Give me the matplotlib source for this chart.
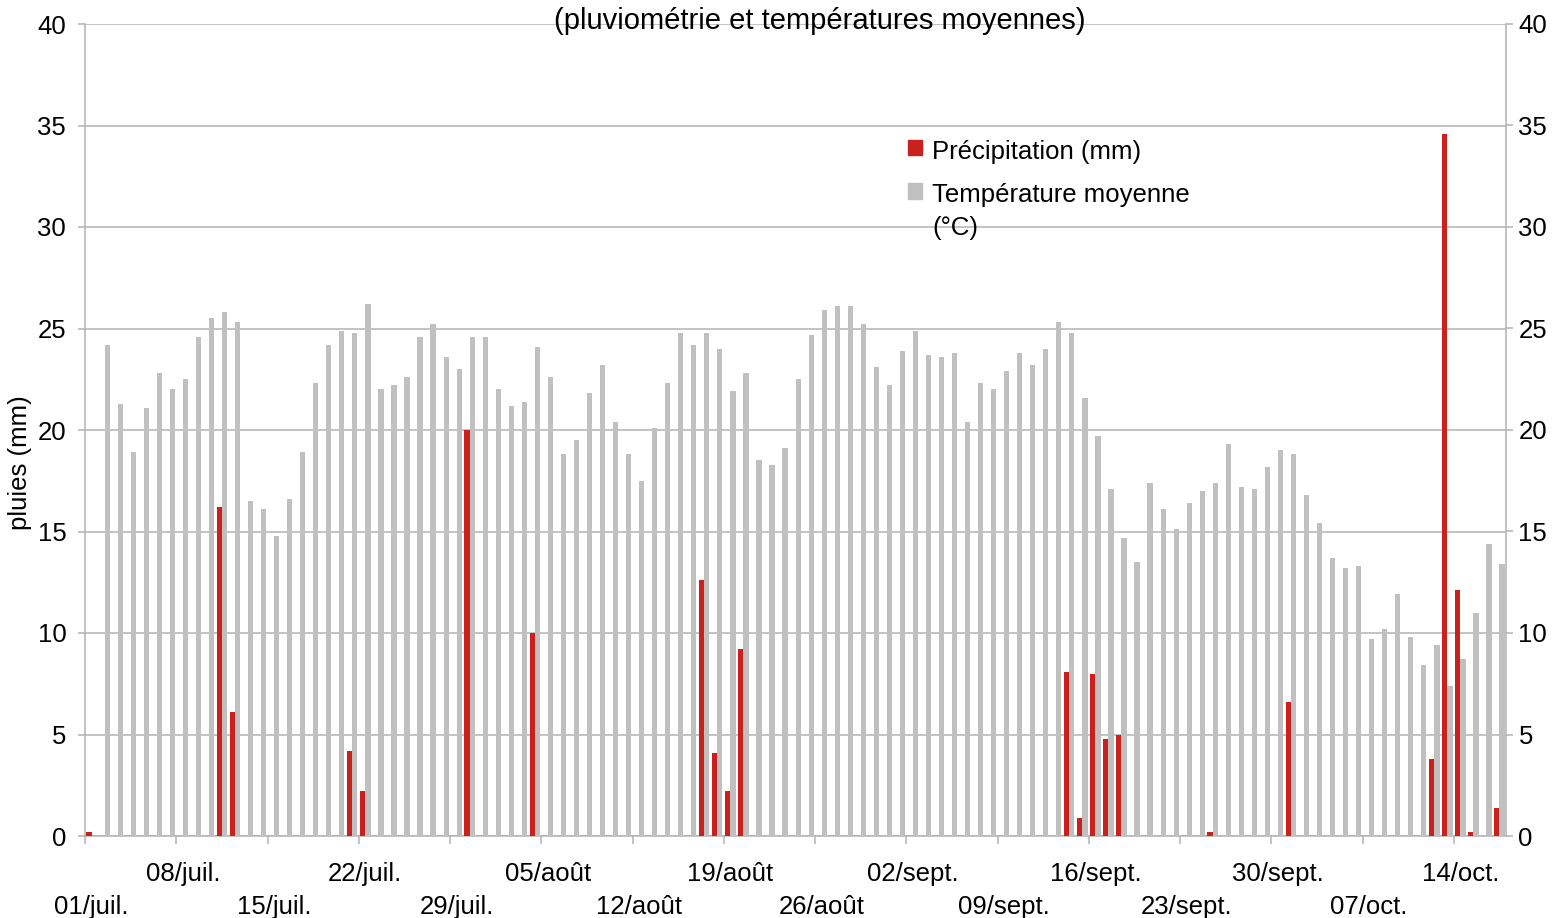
import numpy as np
import matplotlib
matplotlib.use("Agg")
import matplotlib.pyplot as plt
from matplotlib.patches import Patch

plt.rcParams['font.family'] = ['Liberation Sans', 'DejaVu Sans']

# températures moyennes journalières (°C), du 01/juil. au 17/oct. (01/juil. manquant)
temp_juil = [np.nan, 24.2, 21.3, 18.9, 21.1, 22.8, 22.0, 22.5, 24.6, 25.5,
             25.8, 25.3, 16.5, 16.1, 14.8, 16.6, 18.9, 22.3, 24.2, 24.9,
             24.8, 26.2, 22.0, 22.2, 22.6, 24.6, 25.2, 23.6, 23.0, 24.6, 24.6]
temp_aout = [22.0, 21.2, 21.4, 24.1, 22.6, 18.8, 19.5, 21.8, 23.2, 20.4,
             18.8, 17.5, 20.1, 22.3, 24.8, 24.2, 24.8, 24.0, 21.9, 22.8,
             18.5, 18.3, 19.1, 22.5, 24.7, 25.9, 26.1, 26.1, 25.2, 23.1, 22.2]
temp_sept = [23.9, 24.9, 23.7, 23.6, 23.8, 20.4, 22.3, 22.0, 22.9, 23.8,
             23.2, 24.0, 25.3, 24.8, 21.6, 19.7, 17.1, 14.7, 13.5, 17.4,
             16.1, 15.1, 16.4, 17.0, 17.4, 19.3, 17.2, 17.1, 18.2, 19.0]
temp_oct = [18.8, 16.8, 15.4, 13.7, 13.2, 13.3, 9.7, 10.2, 11.9, 9.8,
            8.4, 9.4, 7.4, 8.7, 11.0, 14.4, 13.4]

# précipitations journalières (mm)
pluie_juil = [0.2, 0, 0, 0, 0, 0, 0, 0, 0, 0,
              16.2, 6.1, 0, 0, 0, 0, 0, 0, 0, 0,
              4.2, 2.2, 0, 0, 0, 0, 0, 0, 0, 20.0, 0]
pluie_aout = [0, 0, 0, 10.0, 0, 0, 0, 0, 0, 0,
              0, 0, 0, 0, 0, 0, 12.6, 4.1, 2.2, 9.2,
              0, 0, 0, 0, 0, 0, 0, 0, 0, 0, 0]
pluie_sept = [0, 0, 0, 0, 0, 0, 0, 0, 0, 0,
              0, 0, 0, 8.1, 0.9, 8.0, 4.8, 5.0, 0, 0,
              0, 0, 0, 0, 0.2, 0, 0, 0, 0, 0]
pluie_oct = [6.6, 0, 0, 0, 0, 0, 0, 0, 0, 0,
             0, 3.8, 34.6, 12.1, 0.2, 0, 1.4]

# étiquettes hebdomadaires de l'axe des x
etiquettes = ['01/juil.', '08/juil.', '15/juil.', '22/juil.', '29/juil.',
              '05/août', '12/août', '19/août', '26/août', '02/sept.',
              '09/sept.', '16/sept.', '23/sept.', '30/sept.', '07/oct.', '14/oct.']

temperature = np.array(temp_juil + temp_aout + temp_sept + temp_oct)
pluie = np.array(pluie_juil + pluie_aout + pluie_sept + pluie_oct)
jours = np.arange(len(temperature))

ROUGE = '#c9211e'
GRIS = '#c0c0c0'
GRILLE = '#b3b3b3'
FS = 18.5

fig = plt.figure(figsize=(15.57, 9.18), dpi=100)
ax = fig.add_axes([85 / 1557, 1 - 836 / 918, (1506 - 85) / 1557, (836 - 24) / 918])

larg = 0.4
ax.bar(jours - larg / 2, pluie, width=larg, color=ROUGE, zorder=3)
ax.bar(jours + larg / 2, temperature, width=larg, color=GRIS, zorder=3)

ax.set_xlim(-0.5, len(jours) - 0.5)
ax.set_ylim(0, 40)
ax.set_yticks(np.arange(0, 41, 5))
ax.yaxis.grid(True, color=GRILLE, linewidth=1.1)
ax.set_axisbelow(True)

for s in ['left', 'right', 'bottom']:
    ax.spines[s].set_color(GRILLE)
    ax.spines[s].set_linewidth(1.1)
ax.spines['top'].set_visible(False)

# traits de graduation aux limites de semaine
pos_sem = jours[::7]
ax.set_xticks(pos_sem - 0.5)
ax.set_xticklabels([])
ax.tick_params(axis='x', length=6, width=1.1, color=GRILLE)
ax.tick_params(axis='y', length=5, width=1.1, color=GRILLE, labelsize=FS, pad=8.5)

# étiquettes en quinconce
for k, (p, lab) in enumerate(zip(pos_sem, etiquettes)):
    dy = -26 if k % 2 == 1 else -59
    ax.annotate(lab, xy=(p, 0), xycoords=('data', 'axes fraction'),
                xytext=(0, dy * 0.72), textcoords='offset points',
                ha='center', va='top', fontsize=FS, annotation_clip=False)

ax.set_ylabel('pluies (mm)', fontsize=FS)
ax.yaxis.set_label_coords(-0.037, 0.46)

ax2 = ax.twinx()
ax2.set_ylim(0, 40)
ax2.set_yticks(np.arange(0, 41, 5))
ax2.tick_params(axis='y', length=5, width=1.1, color=GRILLE, labelsize=FS, pad=4)
for s in ax2.spines.values():
    s.set_visible(False)

fig.text(820 / 1557, 1 - 21 / 918, '(pluviométrie et températures moyennes)',
         ha='center', va='center', fontsize=21)

poignees = [Patch(color=ROUGE), Patch(color=GRIS)]
leg = ax.legend(poignees, ['Précipitation (mm)', 'Température moyenne\n(°C)'],
                loc='upper left', bbox_to_anchor=(908 / 1557, 1 - 140 / 918),
                bbox_transform=fig.transFigure, frameon=False, fontsize=FS,
                handlelength=0.55, handleheight=0.55, handletextpad=0.4,
                labelspacing=0.75, borderpad=0, borderaxespad=0)
for t in leg.get_texts():
    t.set_linespacing(1.45)
# carré aligné sur la première ligne du libellé
for col in leg._legend_handle_box.get_children():
    for item in col.get_children():
        item.align = 'top'

fig.savefig('out.png', dpi=100)
